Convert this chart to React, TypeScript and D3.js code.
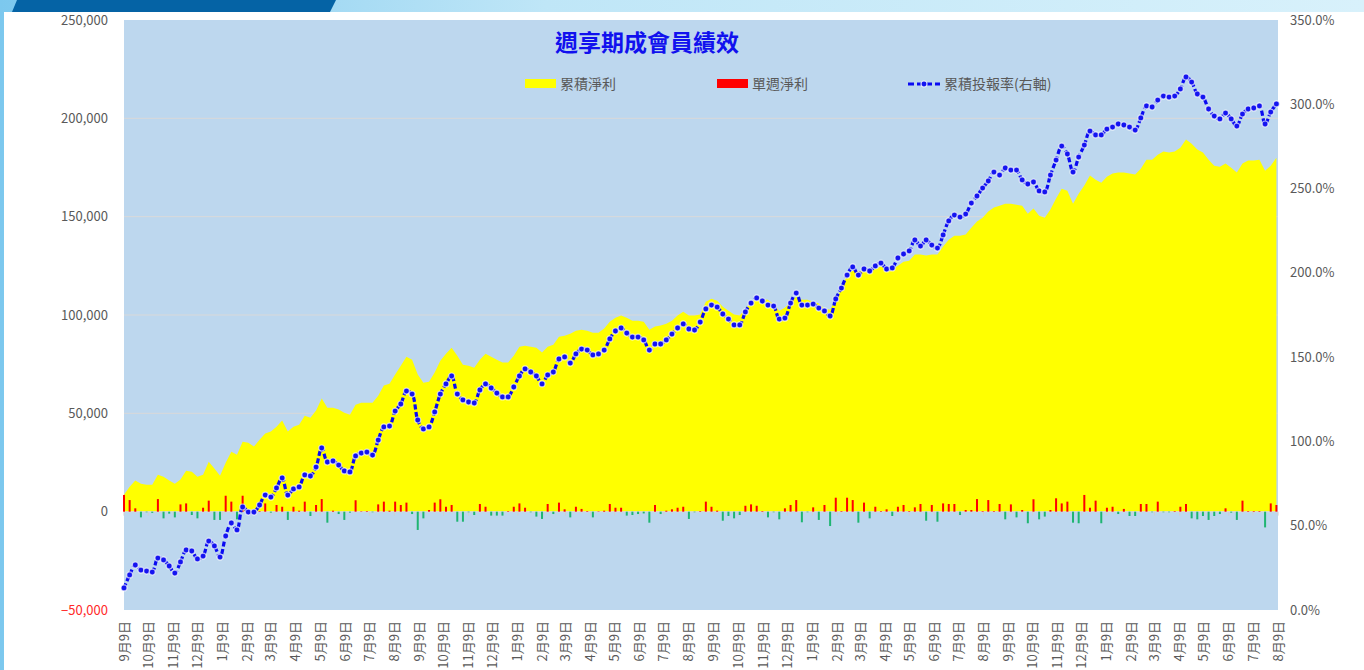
import React from 'react';
import * as d3 from 'd3';

const W = 1364;
const H = 670;

// week 0 of the data, and the ends of the date axis
const DATA_START = new Date(2015, 8, 9);
const AXIS_START = new Date(2015, 8, 9);
const AXIS_END = new Date(2019, 7, 9);

// 累積淨利 (weekly, left axis)
const cumProfit = [
  8600, 12700, 15800, 14200, 13700, 13700, 18800, 17800, 15800, 14200,
  16300, 20800, 20300, 17800, 18800, 25400, 21900, 18300, 24900, 30500,
  29000, 35600, 35100, 33100, 36600, 39700, 40700, 43200, 46300, 40700,
  43200, 44200, 48800, 47800, 51400, 57500, 52900, 52900, 51900, 50300,
  49300, 54400, 55400, 55400, 55400, 59000, 64100, 65100, 69700, 74200,
  78800, 77300, 69700, 65600, 66100, 70700, 76800, 80300, 83400, 79300,
  74700, 74200, 73200, 77300, 80300, 78800, 77300, 75800, 75800, 79300,
  83900, 84400, 83900, 83400, 80900, 83900, 84900, 89000, 89500, 90500,
  92000, 92500, 92000, 91000, 91000, 93100, 96600, 98600, 99700, 98600,
  97100, 97100, 96600, 92500, 94100, 94600, 95600, 97100, 99700, 101700,
  99700, 99700, 100200, 106800, 108300, 107300, 104200, 102200, 100200, 99700,
  103200, 106300, 108800, 107800, 107800, 105300, 102200, 103700, 106300, 109300,
  107800, 107800, 106800, 105800, 103200, 102700, 108300, 112900, 120500, 122500,
  122000, 122500, 121500, 123600, 124600, 123100, 123100, 125100, 127100, 127600,
  130700, 130700, 130200, 130700, 130700, 134800, 138300, 140300, 140300, 140900,
  144400, 147500, 149500, 152600, 154600, 155600, 156600, 156600, 156100, 155600,
  151500, 154100, 150500, 149500, 153600, 159200, 164200, 163200, 156600, 161700,
  165800, 170900, 168800, 167300, 170300, 171900, 172400, 172400, 171900, 171400,
  174400, 179000, 179000, 181500, 183100, 182600, 183100, 185100, 189200, 187100,
  184100, 182600, 179000, 175900, 175400, 177000, 174900, 172400, 177000, 178500,
  178500, 179000, 173400, 175900, 180000,
];

// 單週淨利 (weekly, left axis)
const weeklyProfit = [
  8500, 5900, 1700, -2900, -300, -600, 6400, -3400, -1000, -2900,
  3700, 4200, -1700, -3400, 2000, 5600, -4200, -4200, 8100, 5100,
  -3900, 8100, -300, 500, 300, 4200, -500, 3400, 2500, -4200,
  2500, 500, 5100, -2200, 3400, 6400, -5600, 500, -1200, -4200,
  -500, 5800, 200, 300, -300, 3700, 5100, 500, 5100, 3400,
  4600, -1200, -9300, -3400, 850, 4600, 6300, 2500, 3400, -5100,
  -5100, -300, -1700, 3900, 2500, -2000, -2000, -2000, 300, 2500,
  4200, 2000, -300, -2500, -3700, 3900, -1200, 4600, 1200, -2900,
  2500, 1400, 300, -2900, 200, 500, 3900, 2000, 2000, -2000,
  -1700, -1200, -900, -5600, 3400, -1200, 500, 1200, 2000, 2500,
  -3700, -300, 300, 5100, 2500, 500, -4600, -2200, -3400, -1700,
  3000, 3700, 3000, 300, -2900, -300, -3900, 1700, 3400, 5900,
  -5400, -300, 2200, -4200, 3400, -7300, 7100, 300, 7100, 5900,
  -5600, 4600, -3400, 2500, 300, 1200, -2200, 2500, 3400, 300,
  2200, 3900, -4600, 3400, -5100, 4200, 3900, 3900, -1700, 850,
  850, 6400, 300, 5900, 300, 3900, -3900, 3700, -2900, 850,
  -5900, 6300, -3900, -2500, 850, 6800, 4200, 5100, -5600, -5900,
  8500, 2000, 5600, -5900, 2000, 2500, -1200, 1400, -2200, -2200,
  3900, 3900, -300, 5100, -300, -300, 300, 2500, 3900, -3400,
  -3900, -2200, -4200, -2200, -1200, 1700, -500, -4200, 5600, 300,
  300, 300, -8000, 4200, 3400,
];

// 累積投報率 (weekly, %, right axis)
const cumReturn = [
  13.1, 20.8, 26.7, 23.7, 23.1, 22.5, 30.8, 29.7, 26.1, 21.9,
  28.5, 35.6, 35.0, 30.3, 32.0, 40.9, 38.0, 31.4, 43.9, 51.6,
  47.5, 61.1, 58.1, 58.1, 62.3, 68.2, 67.0, 72.4, 78.3, 68.2,
  71.8, 73.0, 80.1, 79.5, 84.8, 96.1, 87.8, 88.4, 86.0, 82.5,
  81.9, 91.4, 93.1, 93.7, 91.9, 100.8, 108.6, 109.1, 118.0, 122.2,
  129.9, 128.1, 112.7, 107.4, 108.6, 117.5, 128.1, 134.1, 138.8, 128.1,
  124.6, 123.4, 122.8, 130.5, 134.1, 131.7, 128.7, 126.4, 126.4, 132.3,
  138.8, 143.0, 141.2, 138.8, 134.1, 139.4, 141.2, 148.9, 150.1, 146.5,
  151.9, 154.8, 154.2, 151.3, 151.9, 154.2, 160.8, 165.5, 167.3, 164.3,
  161.9, 161.9, 160.2, 154.2, 157.8, 157.8, 160.2, 163.7, 167.3, 169.7,
  166.7, 166.1, 170.8, 178.6, 180.9, 179.7, 175.6, 172.6, 169.1, 169.1,
  176.8, 182.1, 185.1, 183.3, 180.9, 180.3, 172.6, 173.2, 182.1, 188.0,
  180.9, 180.9, 181.5, 179.1, 177.4, 174.4, 184.5, 191.0, 198.7, 203.5,
  198.7, 202.3, 201.1, 204.1, 205.8, 202.3, 202.9, 208.8, 211.2, 213.0,
  219.5, 215.9, 219.5, 216.5, 214.7, 222.5, 230.8, 234.3, 233.1, 234.9,
  241.4, 245.6, 250.3, 254.5, 259.8, 258.0, 262.2, 261.0, 261.0, 255.1,
  252.7, 253.9, 248.6, 248.0, 258.0, 266.9, 275.2, 270.5, 259.8, 268.7,
  275.8, 284.1, 281.8, 281.8, 285.3, 286.5, 288.3, 287.7, 286.5, 284.7,
  291.9, 299.0, 298.4, 302.5, 304.9, 304.3, 304.9, 309.1, 316.2, 313.2,
  306.1, 304.3, 297.2, 293.0, 291.3, 294.8, 291.3, 287.1, 294.2, 297.2,
  297.8, 299.0, 288.3, 295.4, 300.2,
];

const leftTicks = [-50000, 0, 50000, 100000, 150000, 200000, 250000];
const rightTicks = [0, 50, 100, 150, 200, 250, 300, 350];
const monthTicks = d3.timeMonth.range(new Date(2015, 8, 1), new Date(2019, 8, 1)).map(d => new Date(d.getFullYear(), d.getMonth(), 9));

const TITLE = '週享期成會員績效';
const LEGEND = ['累積淨利', '單週淨利', '累積投報率(右軸)'];

const FONT = '"Noto Sans CJK TC", "Noto Sans", sans-serif';

export default function App() {
  const plot = { left: 124, right: 1278, top: 20, bottom: 610 };

  const x = d3.scaleTime().domain([AXIS_START, AXIS_END]).range([plot.left, plot.right]);
  const yL = d3.scaleLinear().domain([-50000, 250000]).range([plot.bottom, plot.top]);
  const yR = d3.scaleLinear().domain([0, 350]).range([plot.bottom, plot.top]);

  const dates = cumProfit.map((_, i) => d3.timeDay.offset(DATA_START, 7 * i));

  const area = d3.area<number>()
    .x((_, i) => x(dates[i]))
    .y0(yL(0))
    .y1(d => yL(d));

  const line = d3.line<number>()
    .x((_, i) => x(dates[i]))
    .y(d => yR(d))
    .curve(d3.curveCatmullRom.alpha(0.5));

  const fmtMonth = d3.timeFormat('%-m月%-d日');
  const fmtLeft = d3.format(',');

  return (
    <svg width={W} height={H} style={{ position: 'absolute', left: 0, top: 0 }} fontFamily={FONT}>
      <defs>
        <linearGradient id="sky" x1="0" x2="1" y1="0" y2="0">
          <stop offset="0" stopColor="#7cc8ee" />
          <stop offset="0.4" stopColor="#bfe6f7" />
          <stop offset="1" stopColor="#d8f1fb" />
        </linearGradient>
      </defs>

      {/* page frame */}
      <rect x={0} y={0} width={W} height={H} fill="url(#sky)" />
      <polygon points="17,0 336,0 330,12 12,12" fill="#0563a5" />
      <rect x={4} y={12} width={W - 4} height={H - 12} fill="#ffffff" />

      {/* plot area */}
      <rect x={plot.left} y={plot.top} width={plot.right - plot.left} height={plot.bottom - plot.top} fill="#bdd7ee" />
      {leftTicks.filter(t => t !== -50000 && t !== 250000).map(t => (
        <line key={t} x1={plot.left} x2={plot.right} y1={yL(t)} y2={yL(t)} stroke="#d9d9d9" strokeWidth={1} />
      ))}

      {/* 累積淨利 */}
      <path d={area(cumProfit) || ''} fill="#ffff00" />

      {/* zero axis and month ticks */}
      <line x1={plot.left} x2={plot.right} y1={yL(0)} y2={yL(0)} stroke="#d9d9d9" strokeWidth={1} />
      {monthTicks.map((d, i) => (
        <line key={i} x1={x(d)} x2={x(d)} y1={yL(0)} y2={yL(0) + 4} stroke="#d0d0d0" strokeWidth={1} />
      ))}

      {/* 單週淨利 */}
      {weeklyProfit.map((v, i) => (
        <rect
          key={i}
          x={x(dates[i]) - 1}
          width={2}
          y={Math.min(yL(v), yL(0))}
          height={Math.abs(yL(v) - yL(0))}
          fill={v >= 0 ? '#ff0000' : '#1fb572'}
        />
      ))}

      {/* 累積投報率 */}
      <path d={line(cumReturn) || ''} fill="none" stroke="#0a0af2" strokeWidth={3.2} strokeDasharray="5 2.5" />
      {cumReturn.map((v, i) => (
        <circle key={i} cx={x(dates[i])} cy={yR(v)} r={3} fill="#1414f0" stroke="rgba(255,255,255,0.65)" strokeWidth={1.2} />
      ))}

      {/* left axis */}
      {leftTicks.map(t => (
        <text key={t} x={108} y={yL(t)} dy="0.35em" textAnchor="end" fontSize={13}
          fill={t < 0 ? '#ff2a2a' : '#595959'}>{fmtLeft(t)}</text>
      ))}

      {/* right axis */}
      {rightTicks.map(t => (
        <text key={t} x={1290} y={yR(t)} dy="0.35em" fontSize={13} fill="#595959">{t.toFixed(1)}%</text>
      ))}

      {/* month labels */}
      {monthTicks.map((d, i) => (
        <text key={i} transform={`translate(${x(d)},621) rotate(-90)`} textAnchor="end" dy="0.35em"
          fontSize={13} fill="#595959">{fmtMonth(d)}</text>
      ))}

      {/* title */}
      <text x={647} y={43} dy="0.35em" textAnchor="middle" fontSize={23} fontWeight="bold" fill="#1111ee">{TITLE}</text>

      {/* legend */}
      <rect x={525} y={79} width={31} height={9} fill="#ffff00" />
      <text x={560} y={84} dy="0.35em" fontSize={14} fill="#595959">{LEGEND[0]}</text>
      <rect x={717} y={79} width={31} height={9} fill="#ff0000" />
      <text x={752} y={84} dy="0.35em" fontSize={14} fill="#595959">{LEGEND[1]}</text>
      <line x1={908} x2={940} y1={84} y2={84} stroke="#0a0af2" strokeWidth={3} strokeDasharray="6 3" />
      <circle cx={924} cy={84} r={3} fill="#1414f0" stroke="rgba(255,255,255,0.8)" strokeWidth={1.2} />
      <text x={944} y={84} dy="0.35em" fontSize={14} fill="#595959">{LEGEND[2]}</text>
    </svg>
  );
}
